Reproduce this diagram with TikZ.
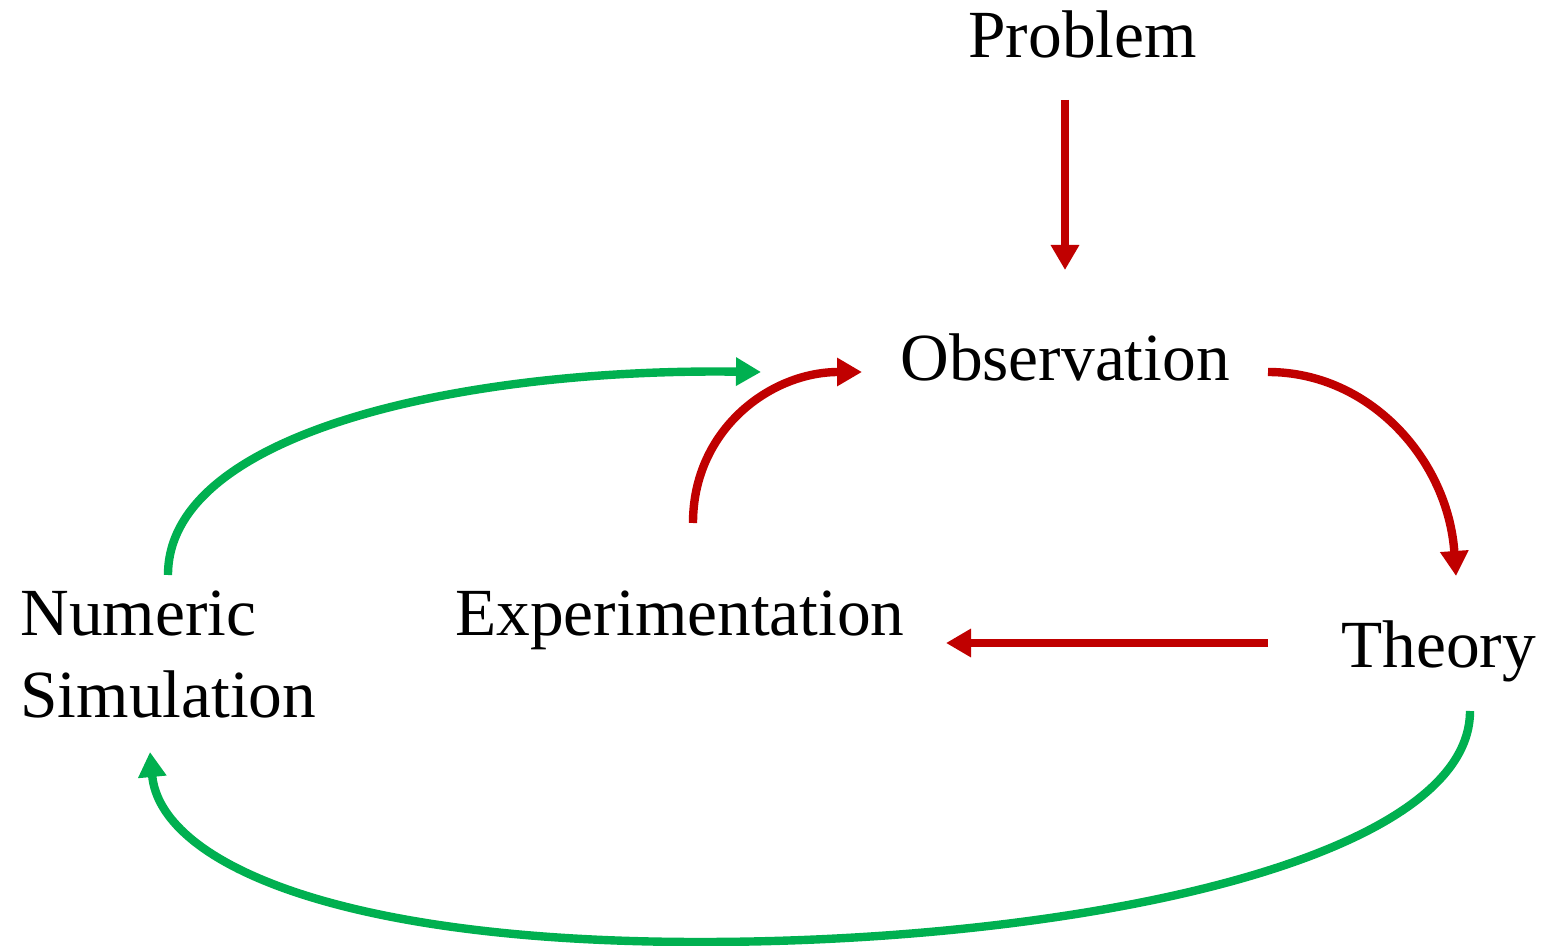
\documentclass[tikz,border=0pt]{standalone}
\usepackage{fontspec}
\setmainfont{Liberation Serif}
\usetikzlibrary{arrows.meta}
\definecolor{flowred}{HTML}{C00000}
\definecolor{flowgreen}{HTML}{00B050}
\begin{document}
\begin{tikzpicture}[x=0.5pt,y=-0.5pt,
  label/.style={inner sep=0pt,anchor=base west,font=\fontsize{33.7}{41}\selectfont},
  link/.style={line width=4.2pt,-{Triangle[length=12.5pt,width=13.5pt]}},
  redlink/.style={link,draw=flowred},
  greenlink/.style={link,draw=flowgreen}]
\useasboundingbox (0,0) rectangle (1543,946);

% labels
\node[label] (prob) at (968,58) {Problem};
\node[label] (obs) at (900,381) {Observation};
\node[label] (exp) at (455,635) {Experimentation};
\node[label] (theo) at (1341,668) {Theory};
\node[label,align=left] (num) at (20,717) {Numeric\\Simulation};

% connector ports
\coordinate (prob-out) at (1065,100);
\coordinate (obs-in-top) at (1065,270);
\coordinate (obs-in-red) at (862,372);
\coordinate (obs-in-green) at (761,372);
\coordinate (obs-out) at (1268,372);
\coordinate (theo-in) at (1456,576);
\coordinate (theo-out-left) at (1268,643);
\coordinate (theo-out-down) at (1470,711);
\coordinate (exp-in) at (946,643);
\coordinate (exp-out) at (693,523);
\coordinate (num-out) at (168,575);
\coordinate (num-in) at (150,752);

% red cycle
\draw[redlink] (prob-out) -- (obs-in-top);
\draw[redlink] (obs-out) .. controls (1370,372) and (1448,460) .. (theo-in);
\draw[redlink] (theo-out-left) -- (exp-in);
\draw[redlink] (exp-out) .. controls (693,430) and (770,372) .. (obs-in-red);

% green loop
\draw[greenlink] (num-out) .. controls (168,430) and (470,368) .. (obs-in-green);
\draw[greenlink] (theo-out-down) .. controls (1470,860) and (1080,942) .. (700,942)
  .. controls (330,942) and (160,860) .. (num-in);
\end{tikzpicture}
\end{document}
